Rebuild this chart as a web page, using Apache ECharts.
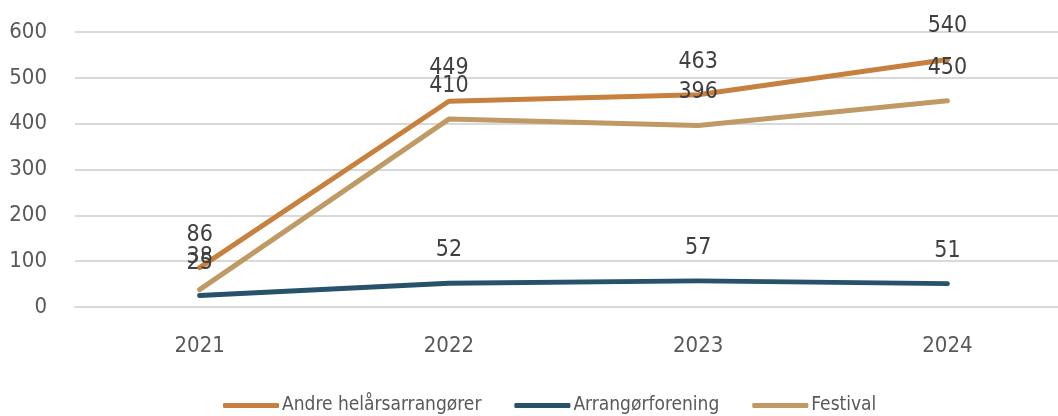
<!DOCTYPE html>
<html><head><meta charset="utf-8">
<script src="https://cdn.jsdelivr.net/npm/echarts@6/dist/echarts.min.js"></script>
<style>html,body{margin:0;padding:0;background:#fff;overflow:hidden}#c{width:1072px;height:416px}</style>
</head><body><div id="c"></div>
<script>
const categories = ['2021', '2022', '2023', '2024'];
const andre = [86, 449, 463, 540];
const forening = [25, 52, 57, 51];
const festival = [38, 410, 396, 450];
const yTicks = [0, 100, 200, 300, 400, 500, 600];

const FONT = '"DejaVu Sans Condensed", sans-serif';
const chart = echarts.init(document.getElementById('c'), null, {renderer: 'canvas'});
function mk(name, data, color) {
  return {
    name, type: 'line', data, symbol: 'circle', symbolSize: 1, showSymbol: true, smooth: false,
    lineStyle: {width: 5, color, cap: 'round', join: 'round'},
    itemStyle: {color},
    label: {show: true, position: 'top', distance: 21, color: '#404040', fontSize: 23, fontFamily: FONT},
    labelLayout: {hideOverlap: false},
    z: 3
  };
}
chart.setOption({
  animation: false,
  grid: {left: 75, top: 32, right: 0, bottom: 109, containLabel: false},
  legend: {
    bottom: -4, left: 218, itemWidth: 56, itemHeight: 5, itemGap: 33,
    icon: 'roundRect',
    textStyle: {color: '#595959', fontSize: 19, fontFamily: FONT, padding: [0, 0, 0, -2]},
    data: ['Andre helårsarrangører', 'Arrangørforening', 'Festival']
  },
  xAxis: {
    type: 'category', data: categories, boundaryGap: true,
    axisLine: {show: true, lineStyle: {color: '#D9D9D9', width: 2}},
    axisTick: {show: false},
    axisLabel: {color: '#595959', fontSize: 22, fontFamily: FONT, margin: 28}
  },
  yAxis: {
    type: 'value', min: yTicks[0], max: yTicks[yTicks.length - 1], interval: 100,
    axisLine: {show: false}, axisTick: {show: false},
    splitLine: {lineStyle: {color: '#D9D9D9', width: 2}},
    axisLabel: {color: '#595959', fontSize: 22, fontFamily: FONT, margin: 28}
  },
  series: [
    mk('Andre helårsarrangører', andre, '#C8803F'),
    mk('Arrangørforening', forening, '#27526A'),
    mk('Festival', festival, '#BF9A64')
  ]
});
</script></body></html>
